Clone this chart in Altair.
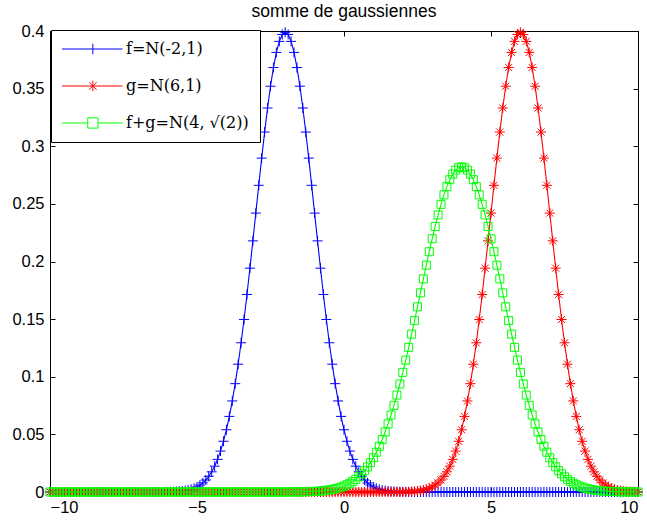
import altair as alt
import pandas as pd

# ---------------- data ----------------
x_vals = [round(-10 + 0.1 * i, 1) for i in range(201)]

f_vals = [0.0] * 40 + [
    0.0001, 0.0002, 0.0003, 0.0004, 0.0006, 0.0009, 0.0012, 0.0017, 0.0024, 0.0033,
    0.0044, 0.0060, 0.0079, 0.0104, 0.0136, 0.0175, 0.0224, 0.0283, 0.0355, 0.0440,
    0.0540, 0.0656, 0.0790, 0.0940, 0.1109, 0.1295, 0.1497, 0.1714, 0.1942, 0.2179,
    0.2420, 0.2661, 0.2897, 0.3123, 0.3332, 0.3521, 0.3683, 0.3814, 0.3910, 0.3970,
    0.3989,
    0.3970, 0.3910, 0.3814, 0.3683, 0.3521, 0.3332, 0.3123, 0.2897, 0.2661, 0.2420,
    0.2179, 0.1942, 0.1714, 0.1497, 0.1295, 0.1109, 0.0940, 0.0790, 0.0656, 0.0540,
    0.0440, 0.0355, 0.0283, 0.0224, 0.0175, 0.0136, 0.0104, 0.0079, 0.0060, 0.0044,
    0.0033, 0.0024, 0.0017, 0.0012, 0.0009, 0.0006, 0.0004, 0.0003, 0.0002, 0.0001,
] + [0.0] * 80

g_vals = [0.0] * 120 + [
    0.0001, 0.0002, 0.0003, 0.0004, 0.0006, 0.0009, 0.0012, 0.0017, 0.0024, 0.0033,
    0.0044, 0.0060, 0.0079, 0.0104, 0.0136, 0.0175, 0.0224, 0.0283, 0.0355, 0.0440,
    0.0540, 0.0656, 0.0790, 0.0940, 0.1109, 0.1295, 0.1497, 0.1714, 0.1942, 0.2179,
    0.2420, 0.2661, 0.2897, 0.3123, 0.3332, 0.3521, 0.3683, 0.3814, 0.3910, 0.3970,
    0.3989,
    0.3970, 0.3910, 0.3814, 0.3683, 0.3521, 0.3332, 0.3123, 0.2897, 0.2661, 0.2420,
    0.2179, 0.1942, 0.1714, 0.1497, 0.1295, 0.1109, 0.0940, 0.0790, 0.0656, 0.0540,
    0.0440, 0.0355, 0.0283, 0.0224, 0.0175, 0.0136, 0.0104, 0.0079, 0.0060, 0.0044,
    0.0033, 0.0024, 0.0017, 0.0012, 0.0009, 0.0006, 0.0004, 0.0003, 0.0002, 0.0001,
]

h_vals = [0.0] * 82 + [
    0.0001, 0.0001, 0.0001, 0.0001, 0.0002, 0.0003, 0.0003, 0.0004,
    0.0005, 0.0007, 0.0009, 0.0011, 0.0014, 0.0018, 0.0022, 0.0028, 0.0034, 0.0042,
    0.0052, 0.0063, 0.0076, 0.0092, 0.0110, 0.0132, 0.0157, 0.0185, 0.0218, 0.0255,
    0.0297, 0.0345, 0.0397, 0.0456, 0.0521, 0.0591, 0.0668, 0.0752, 0.0841, 0.0937,
    0.1038, 0.1144, 0.1255, 0.1370, 0.1487, 0.1607, 0.1728, 0.1849, 0.1968, 0.2085,
    0.2197, 0.2304, 0.2404, 0.2496, 0.2578, 0.2650, 0.2710, 0.2758, 0.2793, 0.2814,
    0.2821,
    0.2814, 0.2793, 0.2758, 0.2710, 0.2650, 0.2578, 0.2496, 0.2404, 0.2304, 0.2197,
    0.2085, 0.1968, 0.1849, 0.1728, 0.1607, 0.1487, 0.1370, 0.1255, 0.1144, 0.1038,
    0.0937, 0.0841, 0.0752, 0.0668, 0.0591, 0.0521, 0.0456, 0.0397, 0.0345, 0.0297,
    0.0255, 0.0218, 0.0185, 0.0157, 0.0132, 0.0110, 0.0092, 0.0076, 0.0063, 0.0052,
    0.0042, 0.0034, 0.0028, 0.0022, 0.0018, 0.0014, 0.0011, 0.0009, 0.0007, 0.0005,
    0.0004, 0.0003, 0.0003, 0.0002, 0.0001, 0.0001, 0.0001, 0.0001,
] + [0.0] * 2

names = ["f=N(-2,1)", "g=N(6,1)", "f+g=N(4, √(2))"]
colors = ["#0000ff", "#ff0000", "#00ff00"]
x_ticks = [-10, -5, 0, 5, 10]
y_ticks = [0, 0.05, 0.1, 0.15, 0.2, 0.25, 0.3, 0.35, 0.4]
title_text = "somme de gaussiennes"

rows = []
for name, vals in zip(names, [f_vals, g_vals, h_vals]):
    for xv, yv in zip(x_vals, vals):
        rows.append({"x": xv, "y": yv, "s": name})
df = pd.DataFrame(rows)

# ---------------- styling ----------------
FONT = "Liberation Sans"
TICK_FS = 16.5

PLUS = "M-1,0L1,0M0,-1L0,1"
STAR = "M-1,0L1,0M0,-1L0,1M-0.7,-0.7L0.7,0.7M-0.7,0.7L0.7,-0.7"

# legend glyphs: a line segment with the marker in its middle
LEG_PLUS = "M-1.6,0L10.5,0M4.57,-1.05L4.57,1.05"
LEG_STAR = ("M-1.6,0L10.5,0M4.57,-1.05L4.57,1.05"
            "M3.82,-0.75L5.32,0.75M3.82,0.75L5.32,-0.75")
LEG_SQ = ("M-1.6,0L3.55,0M5.6,0L10.5,0"
          "M3.55,-1.02L5.6,-1.02L5.6,1.02L3.55,1.02Z")

xs = alt.Scale(domain=[-10, 10], nice=False, zero=False)
ys = alt.Scale(domain=[0, 0.4], nice=False, zero=False)
cs = alt.Scale(domain=names, range=colors)
ss = alt.Scale(domain=names, range=[LEG_PLUS, LEG_STAR, LEG_SQ])

common_axis = dict(domain=False, grid=False, offset=-5, tickSize=5,
                   tickColor="black", tickWidth=1, title=None,
                   labelFont=FONT, labelFontSize=TICK_FS, labelColor="black")

x_bottom = alt.Axis(values=x_ticks, format=".0f", labelPadding=7, **common_axis)
y_left = alt.Axis(values=y_ticks, format=".2~f", labelPadding=6, **common_axis)
x_top = alt.Axis(values=x_ticks, orient="top", labels=False, **common_axis)
y_right = alt.Axis(values=y_ticks, orient="right", labels=False, **common_axis)

legend = alt.Legend(
    title=None, orient="none", legendX=1, legendY=-1,
    strokeColor="black", fillColor="white", padding=11,
    symbolSize=100, symbolStrokeWidth=1, symbolOpacity=1,
    symbolFillColor="transparent",
    labelFont="DejaVu Serif", labelFontSize=16, labelColor="black",
    labelOffset=48, rowPadding=21, labelLimit=400,
)

base = alt.Chart(df)

layers = []
marker_specs = [(PLUS, 100), (STAR, 100), ("square", 64)]
for i, name in enumerate(names):
    line = base.transform_filter(alt.datum.s == name).mark_line(
        strokeWidth=1.1, color=colors[i]
    ).encode(
        x=alt.X("x:Q", scale=xs, axis=x_bottom if i == 0 else None),
        y=alt.Y("y:Q", scale=ys, axis=y_left if i == 0 else None),
    )
    shp, sz = marker_specs[i]
    pts = base.transform_filter(alt.datum.s == name).mark_point(
        shape=shp, size=sz, filled=False, strokeWidth=1, opacity=1,
        color=colors[i]
    ).encode(
        x=alt.X("x:Q", scale=xs, axis=None),
        y=alt.Y("y:Q", scale=ys, axis=None),
    )
    layers += [line, pts]

# invisible layer that carries the top/right ticks and the legend
frame = base.transform_filter(alt.datum.x == 0).mark_point(
    opacity=0, filled=False
).encode(
    x=alt.X("x:Q", scale=xs, axis=x_top),
    y=alt.Y("y:Q", scale=ys, axis=y_right),
    color=alt.Color("s:N", scale=cs, legend=legend),
    shape=alt.Shape("s:N", scale=ss, legend=legend),
)

chart = alt.layer(*layers, frame).resolve_axis(
    x="independent", y="independent"
).properties(
    width=588, height=461,
    autosize=alt.AutoSizeParams(type="none"),
    padding={"left": 50, "top": 31, "right": 9, "bottom": 30},
    title=alt.TitleParams(text=title_text, font=FONT, fontSize=17.5,
                          fontWeight="normal", color="black", anchor="middle",
                          frame="group", offset=3),
    background="white",
).configure_view(stroke="black", strokeWidth=1)

chart.save("out.html", embed_options={"renderer": "svg", "actions": False})
